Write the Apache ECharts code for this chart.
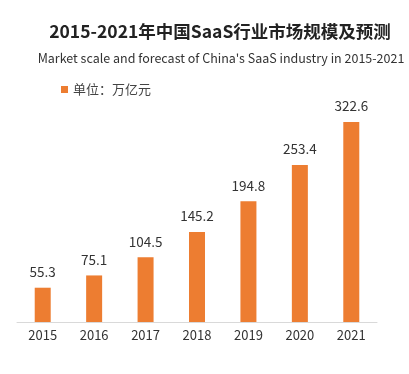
<!DOCTYPE html>
<html><head><meta charset="utf-8">
<script src="https://cdn.jsdelivr.net/npm/echarts@6/dist/echarts.min.js"></script>
<style>html,body{margin:0;padding:0;background:#fff}#c{width:409px;height:374px}</style>
</head><body><div id="c"></div>
<script>
const categories = ['2015','2016','2017','2018','2019','2020','2021'];
const values = [55.3, 75.1, 104.5, 145.2, 194.8, 253.4, 322.6];
const seriesName = '单位：万亿元';
const titleText = '2015-2021年中国SaaS行业市场规模及预测';
const subtitleText = "Market scale and forecast of China's SaaS industry in 2015-2021";
const FONT = '"Noto Sans CJK SC", "Noto Sans", sans-serif';
const chart = echarts.init(document.getElementById('c'));
chart.setOption({
  animation: false,
  title: [
    {text: titleText, left: 215, top: 18, textAlign: 'center',
     textStyle: {fontFamily: FONT, fontSize: 17.5, fontWeight: 'bold', color: '#222'}},
    {text: subtitleText, left: 216, top: 47, textAlign: 'center',
     textStyle: {fontFamily: FONT, fontSize: 12.5, fontWeight: 'normal', color: '#333'}}
  ],
  legend: {
    left: 56, top: 78, icon: 'rect', itemWidth: 7, itemHeight: 7, itemGap: 5,
    textStyle: {fontFamily: FONT, fontSize: 13, color: '#444'},
    data: [seriesName]
  },
  grid: {left: 17, right: 32, top: 105, bottom: 52, containLabel: false},
  xAxis: {
    type: 'category', data: categories,
    axisLine: {lineStyle: {color: '#d9d9d9', width: 1}},
    axisTick: {show: false},
    axisLabel: {fontFamily: FONT, fontSize: 13, color: '#333', margin: 7}
  },
  yAxis: {type: 'value', min: 0, max: 350, show: false, splitLine: {show: false}},
  series: [{
    name: seriesName, type: 'bar', data: values, barWidth: 16,
    itemStyle: {color: '#ED7D31'},
    label: {show: true, position: 'top', distance: 9, fontFamily: FONT, fontSize: 13.5, color: '#333'}
  }]
});
</script></body></html>
